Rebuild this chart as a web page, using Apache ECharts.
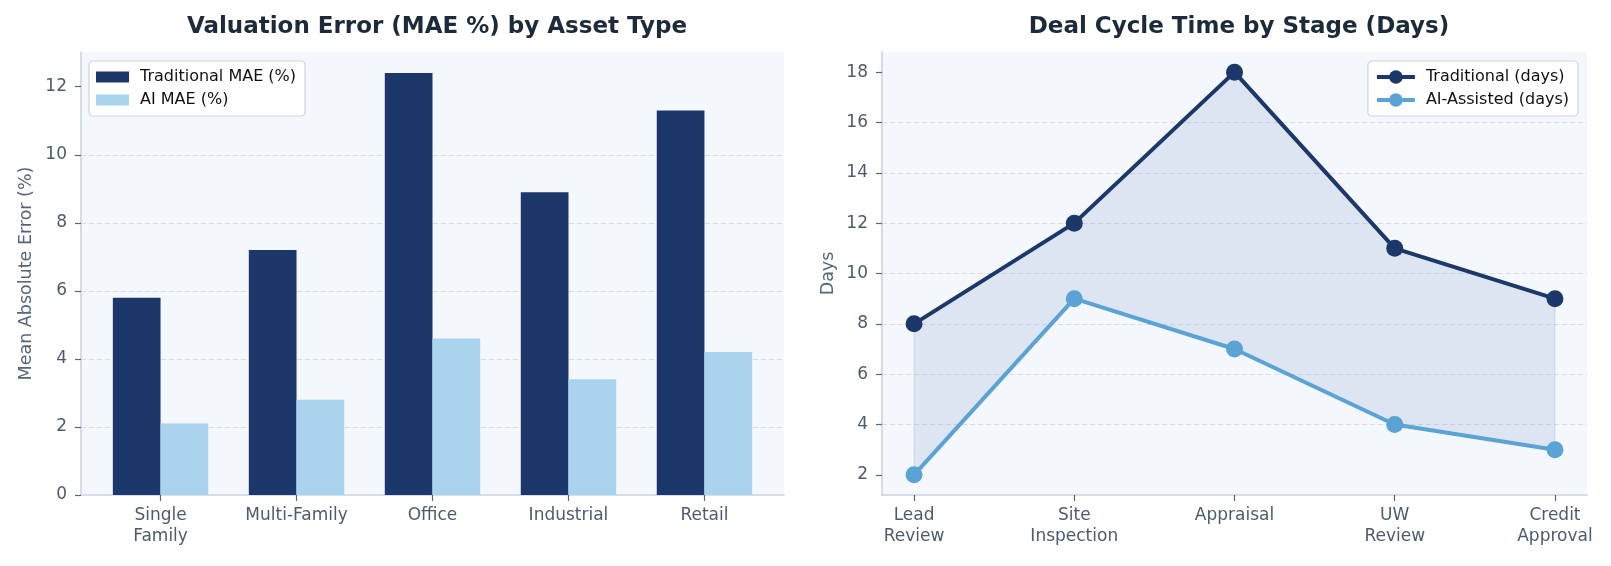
<!DOCTYPE html>
<html>
<head>
<meta charset="utf-8">
<script src="https://cdn.jsdelivr.net/npm/echarts@6/dist/echarts.min.js"></script>
<style>
  html, body { margin: 0; padding: 0; background: #ffffff; }
  #main { width: 1611px; height: 566px; }
</style>
</head>
<body>
<div id="main"></div>
<script>
// left panel: valuation error by asset type
var assetTypes = ['Single\nFamily', 'Multi-Family', 'Office', 'Industrial', 'Retail'];
var tradMae = [5.8, 7.2, 12.4, 8.9, 11.3];
var aiMae = [2.1, 2.8, 4.6, 3.4, 4.2];

// right panel: deal cycle time by stage
var stages = ['Lead\nReview', 'Site\nInspection', 'Appraisal', 'UW\nReview', 'Credit\nApproval'];
var tradDays = [8, 12, 18, 11, 9];
var aiDays = [2, 9, 7, 4, 3];

var maeTicks = [0, 2, 4, 6, 8, 10, 12];
var dayTicks = [2, 4, 6, 8, 10, 12, 14, 16, 18];
var catTicks = [0, 1, 2, 3, 4];

var navy = '#1c3769';
var lightBar = '#aad4ee';
var aiLine = '#5ba3d4';
var font = 'DejaVu Sans, sans-serif';
var labelColor = '#4d5b6e';
var spineColor = '#c8d2e2';

var chart = echarts.init(document.getElementById('main'));

function pairs(vals) {
    var out = [];
    for (var i = 0; i < vals.length; i++) out.push([i, vals[i]]);
    return out;
}

function xAxisFor(gridIndex, min, max, names) {
    return {
        type: 'value', gridIndex: gridIndex, min: min, max: max,
        axisLine: { show: true, onZero: false, lineStyle: { color: spineColor, width: 1.5 } },
        axisTick: { show: true, length: 6, customValues: catTicks, lineStyle: { color: '#5a6678', width: 1.2 } },
        axisLabel: {
            customValues: catTicks, margin: 10,
            color: labelColor, fontFamily: font, fontSize: 17, lineHeight: 21,
            formatter: function (v) { return names[v]; }
        },
        splitLine: { show: false }
    };
}

function yAxisFor(gridIndex, min, max, ticks, name, gap) {
    return {
        type: 'value', gridIndex: gridIndex, min: min, max: max,
        name: name, nameLocation: 'middle', nameGap: gap, nameRotate: 90,
        nameTextStyle: { color: '#56667a', fontFamily: font, fontSize: 17.5 },
        axisLine: { show: true, onZero: false, lineStyle: { color: spineColor, width: 1.5 } },
        axisTick: { show: true, length: 6, customValues: ticks, lineStyle: { color: '#5a6678', width: 1.2 } },
        axisLabel: { customValues: ticks, margin: 14, color: labelColor, fontFamily: font, fontSize: 17 },
        splitLine: { show: true, showMinLine: false, showMaxLine: false, lineStyle: { color: '#d6dde7', type: [5, 3], width: 1 } }
    };
}

var legendBox = {
    orient: 'vertical', top: 61,
    padding: [8, 9, 8, 7], itemGap: 7,
    backgroundColor: 'rgba(255,255,255,0.85)',
    borderColor: '#cdd4de', borderWidth: 1.2, borderRadius: 4,
    textStyle: { color: '#111111', fontFamily: font, fontSize: 16, padding: [0, 0, 0, 6] }
};

// polygon between the two cycle-time lines, placed through the axis scales
function renderBand(params, api) {
    var pts = [];
    for (var i = 0; i < tradDays.length; i++) pts.push(api.coord([i, tradDays[i]]));
    for (var j = aiDays.length - 1; j >= 0; j--) pts.push(api.coord([j, aiDays[j]]));
    return {
        type: 'polygon',
        shape: { points: pts },
        style: { fill: 'rgba(123,161,201,0.2)', stroke: 'rgba(123,161,201,0.25)', lineWidth: 1 }
    };
}

var option = {
    animation: false,
    backgroundColor: '#ffffff',
    title: [
        { text: 'Valuation Error (MAE %) by Asset Type', left: 432, top: 11, textAlign: 'center',
          textStyle: { color: '#1c2a3a', fontFamily: font, fontSize: 23, fontWeight: 'bold' } },
        { text: 'Deal Cycle Time by Stage (Days)', left: 1234, top: 11, textAlign: 'center',
          textStyle: { color: '#1c2a3a', fontFamily: font, fontSize: 23, fontWeight: 'bold' } }
    ],
    legend: [
        Object.assign({}, legendBox, {
            left: 89, icon: 'rect', itemWidth: 33, itemHeight: 11,
            itemStyle: { borderWidth: 0 },
            data: ['Traditional MAE (%)', 'AI MAE (%)']
        }),
        Object.assign({}, legendBox, {
            right: 33, itemWidth: 38, itemHeight: 17,
            lineStyle: { width: 4 },
            data: ['Traditional (days)', 'AI-Assisted (days)']
        })
    ],
    grid: [
        { left: 81, right: 827, top: 52, bottom: 71, show: true, backgroundColor: '#f4f7fc', borderWidth: 0 },
        { left: 882, right: 24, top: 52, bottom: 71, show: true, backgroundColor: '#f4f7fc', borderWidth: 0 }
    ],
    xAxis: [
        xAxisFor(0, -0.585, 4.585, assetTypes),
        xAxisFor(1, -0.2, 4.2, stages)
    ],
    yAxis: [
        yAxisFor(0, 0, 13.02, maeTicks, 'Mean Absolute Error (%)', 46),
        yAxisFor(1, 1.2, 18.8, dayTicks, 'Days', 45)
    ],
    series: [
        {
            name: 'Traditional MAE (%)', type: 'bar', xAxisIndex: 0, yAxisIndex: 0,
            data: pairs(tradMae), barWidth: 47.7, barGap: '0%',
            itemStyle: { color: navy }
        },
        {
            name: 'AI MAE (%)', type: 'bar', xAxisIndex: 0, yAxisIndex: 0,
            data: pairs(aiMae), barWidth: 47.7, barGap: '0%',
            itemStyle: { color: lightBar }
        },
        {
            name: 'band', type: 'custom', xAxisIndex: 1, yAxisIndex: 1,
            data: [[0, 0]], renderItem: renderBand, silent: true, z: 1
        },
        {
            name: 'Traditional (days)', type: 'line', xAxisIndex: 1, yAxisIndex: 1,
            data: pairs(tradDays), symbol: 'circle', symbolSize: 17, z: 3,
            lineStyle: { color: navy, width: 4 }, itemStyle: { color: navy }
        },
        {
            name: 'AI-Assisted (days)', type: 'line', xAxisIndex: 1, yAxisIndex: 1,
            data: pairs(aiDays), symbol: 'circle', symbolSize: 17, z: 3,
            lineStyle: { color: aiLine, width: 4 }, itemStyle: { color: aiLine }
        }
    ]
};

chart.setOption(option);
</script>
</body>
</html>
